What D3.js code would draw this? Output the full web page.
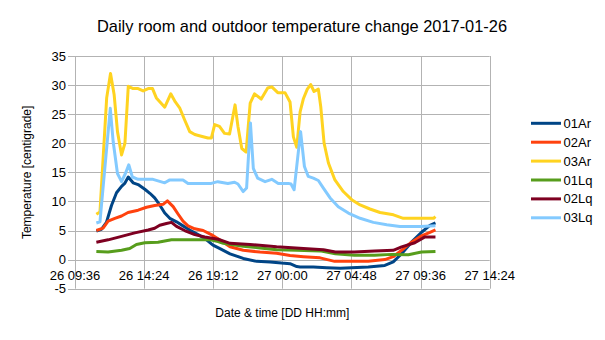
<!DOCTYPE html>
<html><head><meta charset="utf-8">
<script src="https://cdn.jsdelivr.net/npm/d3@7"></script>
<style>body{margin:0;background:#fff;}svg{display:block;font-family:"Liberation Sans",Arial,sans-serif;}</style>
</head><body>
<script>
const titleText = "Daily room and outdoor temperature change 2017-01-26";
const xTitle = "Date & time [DD HH:mm]";
const yTitle = "Temperature [centigrade]";
const xTickLabels = ["26 09:36","26 14:24","26 19:12","27 00:00","27 04:48","27 09:36","27 14:24"];
const yTicks = [-5,0,5,10,15,20,25,30,35];
const seriesNames = ["01Ar","02Ar","03Ar","01Lq","02Lq","03Lq"];
const seriesColors = ["#004586","#ff420e","#ffd320","#579d1c","#7e0021","#83caff"];

const t01Ar = ["26 11:05","26 11:26","26 11:47","26 12:08","26 12:29","26 12:50","26 13:03","26 13:18","26 13:38","26 13:59","26 14:27","26 14:48","26 15:08","26 15:29","26 15:50","26 16:11","26 16:39","26 17:06","26 17:34","26 18:09","26 18:44","26 19:11","26 19:40","26 20:22","26 21:17","26 22:13","26 23:09","26 23:57","27 00:32","27 01:00","27 01:14","27 02:09","27 03:05","27 04:01","27 04:48","27 05:58","27 07:07","27 07:42","27 08:17","27 08:58","27 09:40","27 10:15","27 10:38"];
const v01Ar = [4.9,5.2,6.4,9.3,11.5,12.6,13.1,14.2,13.2,12.9,12.1,11.4,10.6,9.4,8.0,7.1,6.5,5.8,5.1,4.3,3.4,2.5,1.9,1.0,0.2,-0.3,-0.4,-0.6,-0.7,-1.2,-1.25,-1.25,-1.4,-1.5,-1.4,-1.25,-1.0,-0.4,1.0,3.0,4.7,5.9,6.3];

const t02Ar = ["26 11:05","26 11:33","26 11:54","26 12:22","26 12:50","26 13:17","26 13:59","26 14:34","26 15:08","26 15:43","26 16:01","26 16:25","26 16:46","26 17:06","26 17:27","26 17:55","26 18:30","26 19:04","26 19:32","26 20:22","26 21:17","26 22:27","26 23:36","27 00:32","27 01:28","27 02:37","27 03:38","27 04:48","27 05:58","27 07:07","27 07:42","27 08:17","27 08:58","27 09:40","27 10:15","27 10:38"];
const v02Ar = [5.0,5.4,6.6,7.1,7.5,8.1,8.5,9.0,9.3,9.5,10.1,9.1,7.8,6.6,5.8,5.3,5.0,4.3,3.6,2.2,1.6,1.3,1.1,0.7,0.5,0.3,-0.3,-0.3,-0.3,0.0,0.5,1.6,3.0,4.1,4.7,5.1];

const t03Ar = ["26 11:05","26 11:20","26 11:48","26 12:04","26 12:19","26 12:33","26 12:50","26 13:04","26 13:18","26 13:38","26 13:59","26 14:20","26 14:41","26 14:59","26 15:15","26 15:50","26 16:15","26 16:34","26 16:52","26 17:13","26 17:34","26 17:55","26 18:22","26 18:50","26 19:04","26 19:18","26 19:38","26 19:59","26 20:20","26 20:43","26 20:55","26 21:11","26 21:29","26 21:46","26 22:04","26 22:32","26 22:59","26 23:16","26 23:41","27 00:11","27 00:32","27 00:46","27 01:00","27 01:14","27 01:28","27 01:44","27 01:58","27 02:12","27 02:30","27 02:40","27 02:54","27 03:12","27 03:39","27 04:14","27 04:49","27 05:24","27 06:05","27 06:47","27 07:43","27 08:24","27 09:34","27 10:30","27 10:38"];
const v03Ar = [7.8,8.2,27.8,32.0,28.4,22.0,18.0,20.0,29.8,29.4,29.4,29.0,29.4,29.4,27.8,26.2,28.5,27.1,26.1,24.0,22.0,21.5,21.2,20.9,20.9,23.2,22.9,21.7,21.6,26.6,22.9,19.1,18.5,26.9,28.5,27.6,29.5,29.7,28.7,28.7,27.1,21.1,19.3,25.4,27.7,29.3,30.1,28.9,29.3,26.3,20.0,16.6,13.7,11.7,10.3,9.4,8.7,8.1,7.7,7.1,7.1,7.1,7.4];

const t01Lq = ["26 11:05","26 11:54","26 12:50","26 13:24","26 13:52","26 14:27","26 15:22","26 16:18","26 17:27","26 18:37","26 19:00","26 19:32","26 19:54","26 21:17","26 22:27","26 23:36","27 00:59","27 02:37","27 03:41","27 05:00","27 06:25","27 07:35","27 08:45","27 09:40","27 10:38"];
const v01Lq = [1.4,1.3,1.6,1.9,2.6,2.9,3.0,3.4,3.4,3.4,3.4,3.1,2.8,2.3,2.0,1.7,1.6,1.5,1.0,0.75,0.75,0.9,0.85,1.3,1.4];

const t02Lq = ["26 11:05","26 11:54","26 12:50","26 13:45","26 14:41","26 15:08","26 15:29","26 15:57","26 16:18","26 16:39","26 17:13","26 17:55","26 18:37","26 19:32","26 20:22","26 21:45","26 23:36","27 01:28","27 02:51","27 03:41","27 05:00","27 06:25","27 07:42","27 08:17","27 09:12","27 09:54","27 10:38"];
const v02Lq = [3.0,3.4,4.0,4.6,5.1,5.4,5.9,6.2,6.4,5.7,5.0,4.3,3.9,3.5,2.8,2.6,2.2,1.9,1.7,1.3,1.3,1.5,1.6,2.2,2.9,3.9,3.9];

const t03Lq = ["26 11:05","26 11:20","26 12:03","26 12:15","26 12:33","26 12:50","26 13:06","26 13:20","26 13:35","26 13:59","26 15:01","26 15:50","26 16:11","26 17:06","26 17:27","26 19:04","26 19:31","26 20:13","26 20:41","26 20:55","26 21:17","26 21:31","26 21:47","26 21:59","26 22:17","26 22:48","26 23:16","26 23:43","27 00:25","27 00:36","27 00:49","27 01:16","27 01:32","27 01:48","27 02:09","27 02:30","27 02:51","27 03:19","27 03:53","27 04:35","27 05:24","27 06:19","27 07:15","27 08:10","27 09:34","27 10:38"];
const v03Lq = [6.3,6.5,26.0,20.3,14.8,13.4,14.8,16.3,14.2,13.8,13.8,13.2,13.7,13.7,13.1,13.1,13.4,13.1,13.3,13.0,11.7,12.3,23.5,15.7,14.0,13.4,13.8,13.1,13.1,13.0,12.0,22.0,16.0,14.3,14.0,13.6,12.3,10.6,9.1,8.0,7.1,6.4,6.0,5.7,5.7,5.8];

const seriesTimes = [t01Ar,t02Ar,t03Ar,t01Lq,t02Lq,t03Lq];
const seriesValues = [v01Ar,v02Ar,v03Ar,v01Lq,v02Lq,v03Lq];

const W = 605, H = 340;
const m = {left:75, right:489.7, top:56, bottom:288.7};
const parse = d3.timeParse("%d %H:%M");

const svg = d3.select("body").append("svg").attr("width",W).attr("height",H);
svg.append("rect").attr("width",W).attr("height",H).attr("fill","#fff");

const x = d3.scaleTime().domain([parse(xTickLabels[0]), parse(xTickLabels[xTickLabels.length-1])]).range([m.left, m.right]);
const y = d3.scaleLinear().domain([-5,35]).range([m.bottom, m.top]);

const grid = "#b3b3b3";
svg.append("g").selectAll("line").data(yTicks).join("line")
  .attr("x1", m.left-7).attr("x2", m.right)
  .attr("y1", d=>Math.round(y(d))+0.5).attr("y2", d=>Math.round(y(d))+0.5)
  .attr("stroke", grid).attr("stroke-width",1);
svg.append("g").selectAll("line").data(xTickLabels).join("line")
  .attr("x1", d=>Math.round(x(parse(d)))+0.5).attr("x2", d=>Math.round(x(parse(d)))+0.5)
  .attr("y1", m.top).attr("y2", m.bottom)
  .attr("stroke", grid).attr("stroke-width",1);

svg.append("g").selectAll("text").data(yTicks).join("text")
  .attr("x", 66).attr("y", d=>y(d)+4.5)
  .attr("text-anchor","end").attr("font-size",13).attr("fill","#000")
  .text(d=>d);
svg.append("g").selectAll("text").data(xTickLabels).join("text")
  .attr("x", d=>x(parse(d))).attr("y", y(0)+20.5)
  .attr("text-anchor","middle").attr("font-size",13).attr("fill","#000")
  .text(d=>d);

const line = d3.line().x(d=>x(d[0])).y(d=>y(d[1]));
seriesNames.forEach((name,i)=>{
  const pts = seriesTimes[i].map((t,j)=>[parse(t), seriesValues[i][j]]);
  svg.append("path").datum(pts).attr("d", line)
    .attr("fill","none").attr("stroke", seriesColors[i]).attr("stroke-width",3)
    .attr("stroke-linejoin","round").attr("stroke-linecap","butt");
});

svg.append("text").attr("x", 302).attr("y", 32).attr("text-anchor","middle")
  .attr("font-size",16.4).attr("fill","#000").text(titleText);
svg.append("text").attr("x", (m.left+m.right)/2).attr("y", 317).attr("text-anchor","middle")
  .attr("font-size",12).attr("fill","#000").text(xTitle);
svg.append("text").attr("transform", `translate(31,${(m.top+m.bottom)/2}) rotate(-90)`)
  .attr("text-anchor","middle").attr("font-size",12).attr("fill","#000").text(yTitle);

const lg = svg.append("g");
seriesNames.forEach((name,i)=>{
  const ly = 123.3 + i*18.9;
  lg.append("line").attr("x1",531).attr("x2",561).attr("y1",ly).attr("y2",ly)
    .attr("stroke",seriesColors[i]).attr("stroke-width",3);
  lg.append("text").attr("x",563.5).attr("y",ly+4.5).attr("font-size",13).attr("fill","#000").text(name);
});
</script>
</body></html>
